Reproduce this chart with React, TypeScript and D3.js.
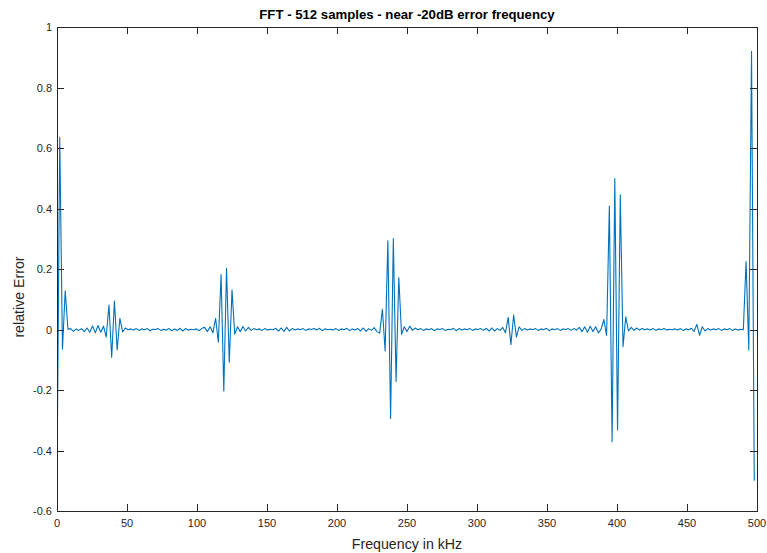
import React from 'react';
import * as d3 from 'd3';

const WIDTH = 767;
const HEIGHT = 553;
const FFT_SIZE = 512;
const SAMPLE_RATE_KHZ = 1000;

const TITLE = 'FFT - 512 samples - near -20dB error frequency';
const X_LABEL = 'Frequency in kHz';
const Y_LABEL = 'relative Error';

const xTicks = [0, 50, 100, 150, 200, 250, 300, 350, 400, 450, 500];
const yTicks = [-0.6, -0.4, -0.2, 0, 0.2, 0.4, 0.6, 0.8, 1];

// relative error per FFT bin (bin spacing = 1000/512 kHz)
const errorBins0to39 = [
  -0.5, 0.635, -0.065, 0.128, 0.001, 0.003, -0.006, 0.002, -0.003, 0.003,
  -0.007, 0.005, -0.009, 0.012, -0.011, 0.013, -0.009, 0.011, -0.025, 0.081,
  -0.092, 0.094, -0.068, 0.037, -0.008, 0.005, -0.001, 0.002, -0.002, 0.003,
  -0.003, 0.002, -0.001, 0.003, -0.004, 0.001, 0.0, 0.003, -0.003, 0.001,
];
const errorBins40to79 = [
  -0.002, 0.003, -0.004, 0.002, -0.003, 0.004, -0.005, 0.003, -0.002, 0.001,
  -0.001, 0.002, -0.004, 0.004, 0.007, -0.007, 0.009, -0.011, 0.037, -0.042,
  0.182, -0.203, 0.202, -0.108, 0.131, -0.016, 0.009, -0.007, 0.01, -0.005,
  0.007, -0.003, 0.003, -0.001, 0.002, -0.003, 0.003, -0.002, 0.001, -0.001,
];
const errorBins80to119 = [
  0.004, -0.005, 0.005, -0.006, 0.007, -0.005, 0.003, -0.002, 0.002, -0.001,
  0.003, -0.003, 0.002, 0.0, 0.003, -0.002, 0.004, -0.004, 0.002, -0.001,
  0.001, -0.002, 0.003, -0.003, 0.002, -0.001, 0.004, -0.004, 0.002, -0.002,
  0.003, -0.005, 0.005, -0.006, 0.003, -0.003, 0.006, -0.007, -0.012, 0.067,
];
const errorBins120to159 = [
  -0.071, 0.293, -0.294, 0.301, -0.172, 0.172, -0.016, 0.009, -0.007, 0.011,
  -0.003, 0.005, -0.001, 0.003, -0.003, 0.002, -0.001, 0.003, -0.004, 0.002,
  0.0, 0.003, -0.003, 0.001, -0.001, 0.004, -0.004, 0.003, -0.002, 0.002,
  -0.001, 0.003, -0.003, 0.002, 0.0, 0.003, -0.003, 0.004, -0.005, 0.005,
];
const errorBins160to199 = [
  -0.005, 0.003, -0.003, 0.007, -0.011, 0.04, -0.05, 0.048, -0.025, 0.009,
  -0.003, 0.003, -0.002, 0.002, -0.001, 0.003, -0.003, 0.002, -0.001, 0.004,
  -0.004, 0.002, -0.001, 0.003, -0.003, 0.002, 0.0, 0.003, -0.003, 0.003,
  -0.002, 0.007, -0.007, 0.009, -0.009, 0.011, -0.007, 0.009, -0.011, 0.001,
];
const errorBins200to255 = [
  0.033, -0.02, 0.408, -0.371, 0.499, -0.332, 0.445, -0.057, 0.042, -0.005,
  0.007, -0.003, 0.005, -0.002, 0.003, -0.001, 0.002, -0.002, 0.003, -0.003,
  0.002, -0.001, 0.003, -0.002, 0.001, -0.001, 0.002, -0.002, 0.003, -0.003,
  0.002, -0.001, 0.004, -0.006, 0.017, -0.019, 0.009, -0.005, 0.003, -0.002,
  0.002, -0.001, 0.003, -0.003, 0.002, -0.001, 0.003, -0.003, 0.002, -0.002,
  0.001, -0.001, 0.225, -0.068, 0.92, -0.5,
];

const errorValues = [
  ...errorBins0to39,
  ...errorBins40to79,
  ...errorBins80to119,
  ...errorBins120to159,
  ...errorBins160to199,
  ...errorBins200to255,
];

const AXIS_COLOR = '#262626';
const LINE_COLOR = '#0072BD';
const FONT = '"Liberation Sans", Arial, Helvetica, sans-serif';

export default function App() {
  const left = 57;
  const right = 757;
  const top = 27;
  const bottom = 511;
  const tickLen = 7;

  const x = d3.scaleLinear().domain([0, 500]).range([left, right]);
  const y = d3.scaleLinear().domain([-0.6, 1]).range([bottom, top]);

  const line = d3
    .line<number>()
    .x((_, i) => x((i * SAMPLE_RATE_KHZ) / FFT_SIZE))
    .y((d) => y(d));

  const fmt = (v: number) => `${+v.toFixed(1)}`;
  const px = (v: number) => Math.round(v) + 0.5;

  return (
    <svg
      width={WIDTH}
      height={HEIGHT}
      style={{ position: 'absolute', left: 0, top: 0, background: '#fff' }}
      fontFamily={FONT}
    >
      <rect x={0} y={0} width={WIDTH} height={HEIGHT} fill="#fff" />
      <defs>
        <clipPath id="plotClip">
          <rect x={left} y={top} width={right - left} height={bottom - top} />
        </clipPath>
      </defs>

      <path
        d={line(errorValues) || ''}
        fill="none"
        stroke={LINE_COLOR}
        strokeWidth={1.1}
        strokeLinejoin="round"
        clipPath="url(#plotClip)"
      />

      <rect
        x={px(left)}
        y={px(top)}
        width={Math.round(right) - Math.round(left)}
        height={Math.round(bottom) - Math.round(top)}
        fill="none"
        stroke={AXIS_COLOR}
        strokeWidth={1}
      />

      {xTicks.map((t) => (
        <g key={`xt${t}`}>
          <line x1={px(x(t))} x2={px(x(t))} y1={bottom} y2={bottom - tickLen} stroke={AXIS_COLOR} />
          <line x1={px(x(t))} x2={px(x(t))} y1={top} y2={top + tickLen} stroke={AXIS_COLOR} />
          <text x={x(t)} y={bottom + 16} textAnchor="middle" fontSize={11} fill={AXIS_COLOR}>
            {t}
          </text>
        </g>
      ))}

      {yTicks.map((t) => (
        <g key={`yt${t}`}>
          <line x1={left} x2={left + tickLen} y1={px(y(t))} y2={px(y(t))} stroke={AXIS_COLOR} />
          <line x1={right} x2={right - tickLen} y1={px(y(t))} y2={px(y(t))} stroke={AXIS_COLOR} />
          <text x={left - 5} y={y(t) + 4} textAnchor="end" fontSize={11} fill={AXIS_COLOR}>
            {fmt(t)}
          </text>
        </g>
      ))}

      <text
        x={(left + right) / 2}
        y={19}
        textAnchor="middle"
        fontSize={13.2}
        fontWeight="bold"
        fill="#000"
      >
        {TITLE}
      </text>

      <text x={(left + right) / 2} y={549} textAnchor="middle" fontSize={14.2} fill={AXIS_COLOR}>
        {X_LABEL}
      </text>

      <text
        transform={`translate(24, 297) rotate(-90)`}
        textAnchor="middle"
        fontSize={14.2}
        fill={AXIS_COLOR}
      >
        {Y_LABEL}
      </text>
    </svg>
  );
}
